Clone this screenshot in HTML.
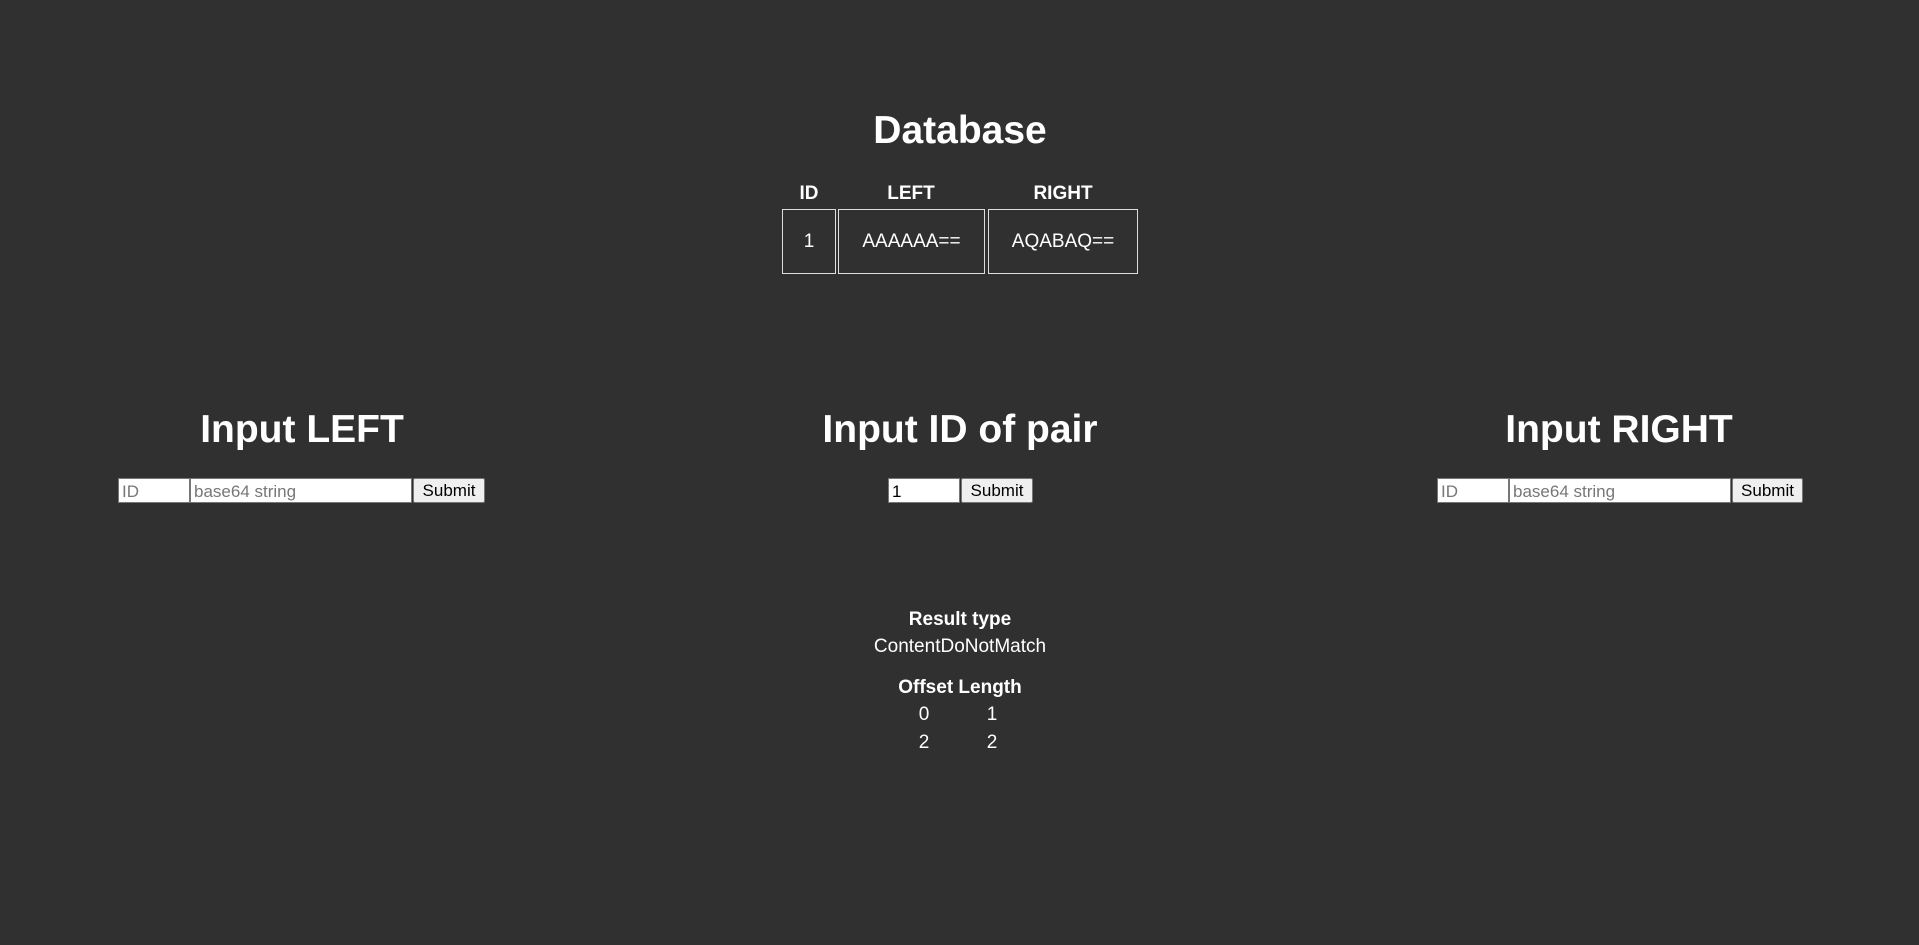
<!DOCTYPE html>
<html><head><meta charset="utf-8"><style>
html,body{margin:0;padding:0;background:#303030;width:1919px;height:945px;overflow:hidden;font-family:"Liberation Sans",Arial,sans-serif;color:#fff}
.a{position:absolute;white-space:nowrap}
.c{transform:translateX(-50%)}
h1{margin:0;font-size:39px;font-weight:bold;line-height:46px}
.cell{position:absolute;border:1.5px solid #ddd;box-sizing:border-box;top:209px;height:65px;font-size:19px;display:flex;align-items:center;justify-content:center}
.th{font-size:19px;font-weight:bold;top:183px}
.in{position:absolute;top:478px;height:25px;box-sizing:border-box;background:#fff;border:1.5px solid #767676;font-size:17px;color:#777;padding:3px 3px 1px;line-height:19px}
.btn{position:absolute;top:478px;height:25px;box-sizing:border-box;background:#efefef;border:1.5px solid #767676;border-radius:2px;font-size:17px;color:#000;text-align:center;line-height:23px}
.t{font-size:19px}
</style></head><body>
<h1 class="a c" style="left:960px;top:108px">Database</h1>
<div class="a c th" style="left:809px">ID</div>
<div class="a c th" style="left:911px">LEFT</div>
<div class="a c th" style="left:1063px">RIGHT</div>
<div class="cell" style="left:782px;width:54px">1</div>
<div class="cell" style="left:838px;width:147px">AAAAAA==</div>
<div class="cell" style="left:988px;width:150px">AQABAQ==</div>

<h1 class="a c" style="left:302px;top:407px">Input LEFT</h1>
<h1 class="a c" style="left:960px;top:407px">Input ID of pair</h1>
<h1 class="a c" style="left:1619px;top:407px">Input RIGHT</h1>

<div class="in" style="left:118px;width:72px">ID</div>
<div class="in" style="left:190px;width:222px">base64 string</div>
<div class="btn" style="left:413px;width:72px">Submit</div>

<div class="in" style="left:888px;width:72px;color:#000">1</div>
<div class="btn" style="left:961px;width:72px">Submit</div>

<div class="in" style="left:1437px;width:72px">ID</div>
<div class="in" style="left:1509px;width:222px">base64 string</div>
<div class="btn" style="left:1732px;width:71px">Submit</div>

<div class="a c t" style="left:960px;top:609px;font-weight:bold">Result type</div>
<div class="a c t" style="left:960px;top:636px">ContentDoNotMatch</div>
<div class="a c t" style="left:960px;top:677px;font-weight:bold">Offset Length</div>
<div class="a c t" style="left:924px;top:704px">0</div>
<div class="a c t" style="left:992px;top:704px">1</div>
<div class="a c t" style="left:924px;top:732px">2</div>
<div class="a c t" style="left:992px;top:732px">2</div>
</body></html>
